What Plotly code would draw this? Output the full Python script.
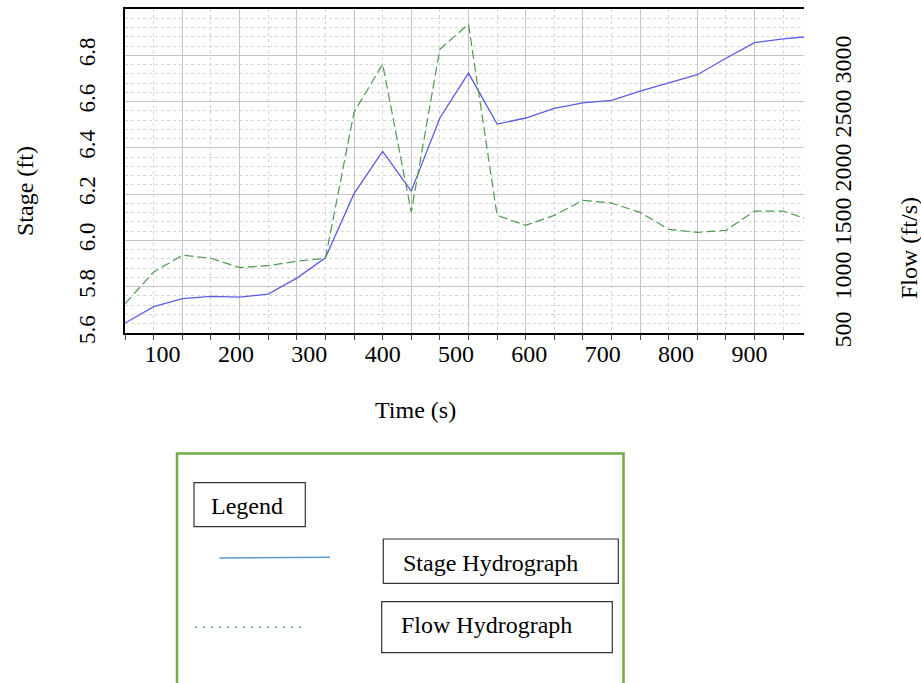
import plotly.graph_objects as go

# ---- data ----
time_s = [49, 88, 127, 166, 205, 244, 283, 322, 361, 400, 439, 478, 517,
          556, 595, 634, 673, 712, 751, 790, 829, 868, 907, 946, 985]
stage_ft = [5.643, 5.714, 5.749, 5.758, 5.755, 5.768, 5.837, 5.925, 6.202,
            6.385, 6.213, 6.529, 6.723, 6.503, 6.529, 6.571, 6.594, 6.605,
            6.645, 6.681, 6.716, 6.787, 6.855, 6.871, 6.882]
flow_cfs = [772, 1066, 1220, 1192, 1105, 1123, 1165, 1192, 2543, 2990, 1620,
            3128, 3359, 1589, 1497, 1589, 1728, 1703, 1617, 1460, 1432, 1451,
            1629, 1629, 1539]
x_ticks = [100, 200, 300, 400, 500, 600, 700, 800, 900]
stage_ticks = [5.6, 5.8, 6.0, 6.2, 6.4, 6.6, 6.8]
flow_ticks = [500, 1000, 1500, 2000, 2500, 3000]

FONT = "Liberation Serif"
W, H = 921, 683
SL, ST, SR, SB = 125, 9, 804, 333   # plot area in page pixels
L, T = SL, ST
R, B = W - SR, H - SB
PW, PH = SR - SL, SB - ST


def X(px):
    return (px - SL) / PW


def Y(py):
    return (SB - py) / PH


fig = go.Figure()
fig.add_trace(go.Scatter(x=time_s, y=flow_cfs, mode="lines", xaxis="x2", yaxis="y2",
                         line=dict(color="#4f9a4f", width=1.2, dash="9px,4px"),
                         name="Flow Hydrograph", hoverinfo="x+y"))
fig.add_trace(go.Scatter(x=time_s, y=stage_ft, mode="lines",
                         line=dict(color="#5c5ce2", width=1.3),
                         name="Stage Hydrograph", hoverinfo="x+y"))

xr = [48.8, 974.4]
shapes = []
ann = []

# legend panel
shapes.append(dict(type="rect", xref="paper", yref="paper", x0=X(177), x1=X(623.5),
                   y0=Y(705), y1=Y(453.5), line=dict(color="#70ad47", width=2.5)))
for (x0, y0, x1, y1) in [(194, 482.7, 305.3, 526.7), (383.3, 539, 618.3, 583.3),
                         (381.7, 601.7, 612.3, 652.7)]:
    shapes.append(dict(type="rect", xref="paper", yref="paper", x0=X(x0), x1=X(x1),
                       y0=Y(y1), y1=Y(y0), line=dict(color="#333333", width=1.2)))
shapes.append(dict(type="line", xref="paper", yref="paper", x0=X(219.3), x1=X(330),
                   y0=Y(558), y1=Y(557.3), line=dict(color="#5b9bd5", width=1.5)))
shapes.append(dict(type="line", xref="paper", yref="paper", x0=X(195), x1=X(303.3),
                   y0=Y(627.3), y1=Y(627.3), line=dict(color="#5b9bd5", width=1.5, dash="2px,6px")))

for txt, px, py in [("Legend", 247, 505.5), ("Stage Hydrograph", 490, 562.5),
                    ("Flow Hydrograph", 486, 625)]:
    ann.append(dict(text=txt, x=X(px), y=Y(py), xref="paper", yref="paper",
                    showarrow=False, xanchor="center", yanchor="middle",
                    font=dict(family=FONT, size=24, color="black")))

# axis titles
ann.append(dict(text="Stage (ft)", x=X(25), y=Y(191), xref="paper", yref="paper",
                textangle=-90, showarrow=False, xanchor="center", yanchor="middle",
                font=dict(family=FONT, size=24, color="black")))
ann.append(dict(text="Flow (ft/s)", x=X(909), y=Y(248), xref="paper", yref="paper",
                textangle=-90, showarrow=False, xanchor="center", yanchor="middle",
                font=dict(family=FONT, size=24, color="black")))
ann.append(dict(text="Time (s)", x=X(415), y=Y(410), xref="paper", yref="paper",
                showarrow=False, xanchor="center", yanchor="middle",
                font=dict(family=FONT, size=24, color="black")))

fig.update_layout(
    width=W, height=H,
    margin=dict(l=L, r=R, t=T, b=B, autoexpand=False),
    paper_bgcolor="white", plot_bgcolor="white",
    showlegend=False,
    font=dict(family=FONT, size=24, color="black"),
    # main x axis: grid + small ticks, no labels
    xaxis=dict(range=xr, tickmode="linear", tick0=49, dtick=78, showticklabels=False,
               showgrid=True, gridcolor="#c4c4c4", gridwidth=1, zeroline=False,
               ticks="outside", ticklen=5, tickcolor="#444444",
               showline=True, mirror=True, linecolor="black", linewidth=2,
               minor=dict(tickmode="linear", tick0=49, dtick=39, showgrid=True,
                          gridcolor="#d6d6d6", griddash="dot", ticks="outside",
                          ticklen=5, tickcolor="#444444")),
    # labelled time axis
    xaxis2=dict(range=xr, overlaying="x", anchor="y2", side="bottom",
                tickmode="array", tickvals=x_ticks, showgrid=False, zeroline=False,
                ticks="", showline=False, ticklabelstandoff=4,
                tickfont=dict(family=FONT, size=24, color="black")),
    yaxis=dict(range=[5.6, 7.0], tickmode="array", tickvals=stage_ticks,
               ticktext=[f"{v:.1f}" for v in stage_ticks], tickangle=-90,
               showgrid=True, gridcolor="#c4c4c4", gridwidth=1, zeroline=False,
               showline=True, linecolor="black", linewidth=1.5, ticks="",
               ticklabelstandoff=19,
               tickfont=dict(family=FONT, size=23, color="black"),
               minor=dict(tickmode="linear", tick0=5.6, dtick=0.04, showgrid=True,
                          gridcolor="#d6d6d6", griddash="dot")),
    yaxis2=dict(range=[500, 3500], overlaying="y", side="right", anchor="x2",
                tickmode="array", tickvals=flow_ticks, tickangle=-90,
                showgrid=False, zeroline=False, showline=False, ticks="",
                ticklabelstandoff=22,
                tickfont=dict(family=FONT, size=24, color="black")),
    shapes=shapes,
    annotations=ann,
)

fig.write_html("out.html",
               config={"displayModeBar": False},
               post_script="document.body.style.margin='0';"
                           "document.body.style.overflow='hidden';")
